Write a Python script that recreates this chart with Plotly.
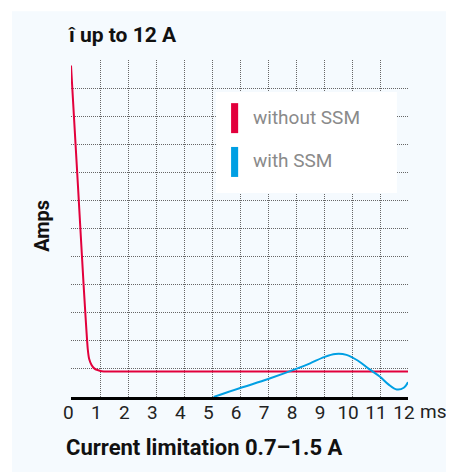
import plotly.graph_objects as go

# Data
x_ticks = list(range(0, 13))
tick_labels = [str(v) for v in x_ticks]
grid_vals = list(range(1, 12))

red_x = [-0.05, 0.2, 0.4, 0.55, 0.6, 0.68, 0.78, 0.9, 1.05, 1.3, 12.0]
red_y = [11.8, 7.5, 4.0, 1.7, 1.35, 1.15, 1.02, 0.96, 0.92, 0.91, 0.91]

blue_x = [5.05, 6.0, 7.0, 8.0, 8.5, 9.0, 9.4, 9.8, 10.2, 10.6, 11.0, 11.3, 11.6, 11.85, 12.0]
blue_y = [0.0, 0.32, 0.64, 1.0, 1.2, 1.42, 1.53, 1.5, 1.3, 1.0, 0.72, 0.45, 0.27, 0.33, 0.53]

RED = "#E2003C"
BLUE = "#009FE3"
BG = "#F5FAFE"
FONT = "Roboto, Arial, sans-serif"
GRID = dict(showgrid=True, gridcolor="#666", griddash="1px,1px", gridwidth=1)

fig = go.Figure()
fig.add_trace(go.Scatter(x=red_x, y=red_y, mode="lines", line=dict(color=RED, width=2, shape="spline", smoothing=0.6),
                         name="without SSM", showlegend=False))
fig.add_trace(go.Scatter(x=blue_x, y=blue_y, mode="lines", line=dict(color=BLUE, width=2, shape="spline", smoothing=1.0),
                         name="with SSM", showlegend=False))

shapes = [
    dict(type="rect", xref="paper", yref="paper", x0=-0.175, x1=1.2, y0=-0.3, y1=1.145,
         fillcolor=BG, line=dict(width=0), layer="below"),
    # legend box
    dict(type="rect", xref="paper", yref="paper", x0=0.430, x1=0.967, y0=0.605, y1=0.905,
         fillcolor="white", line=dict(width=0), layer="above"),
    dict(type="rect", xref="paper", yref="paper", x0=0.475, x1=0.496, y0=0.783, y1=0.872,
         fillcolor=RED, line=dict(width=0), layer="above"),
    dict(type="rect", xref="paper", yref="paper", x0=0.475, x1=0.496, y0=0.653, y1=0.742,
         fillcolor=BLUE, line=dict(width=0), layer="above"),
]

annotations = [
    dict(text="<b>î up to 12 A</b>", xref="paper", yref="paper", x=-0.018, y=1.074, xanchor="left", yanchor="middle",
         showarrow=False, font=dict(family=FONT, size=21, color="#111")),
    dict(text="<b>Amps</b>", xref="paper", yref="paper", x=-0.086, y=0.508, xanchor="center", yanchor="middle",
         textangle=-90, showarrow=False, font=dict(family=FONT, size=20, color="#111")),
    dict(text="<b>Current limitation 0.7–1.5 A</b>", xref="paper", yref="paper", x=-0.022, y=-0.151,
         xanchor="left", yanchor="middle", showarrow=False, font=dict(family=FONT, size=22, color="#111")),
    dict(text="ms", xref="paper", yref="paper", x=1.029, y=-0.043, xanchor="left", yanchor="middle",
         showarrow=False, font=dict(family=FONT, size=19, color="#222")),
    dict(text="without SSM", xref="paper", yref="paper", x=0.534, y=0.828, xanchor="left", yanchor="middle",
         showarrow=False, font=dict(family=FONT, size=19, color="#8a8a8a")),
    dict(text="with SSM", xref="paper", yref="paper", x=0.534, y=0.703, xanchor="left", yanchor="middle",
         showarrow=False, font=dict(family=FONT, size=19, color="#8a8a8a")),
]

fig.update_layout(
    width=446, height=464,
    margin=dict(l=63, r=46, t=52, b=75),
    paper_bgcolor="white", plot_bgcolor=BG,
    shapes=shapes, annotations=annotations,
    font=dict(family=FONT),
    xaxis=dict(range=[-0.05, 12], tickvals=x_ticks, ticktext=tick_labels, showgrid=False, zeroline=False,
               showline=True, linecolor="black", linewidth=2.5, ticks="", ticklen=0,
               ticklabelshift=-4, ticklabelstandoff=-4,
               tickfont=dict(family=FONT, size=19, color="#222"),
               minor=dict(tickvals=grid_vals, ticks="", **GRID)),
    yaxis=dict(range=[0, 12], tickvals=grid_vals, showticklabels=False, zeroline=False, showline=False,
               ticks="", **GRID),
)

fig.write_html("out.html")
